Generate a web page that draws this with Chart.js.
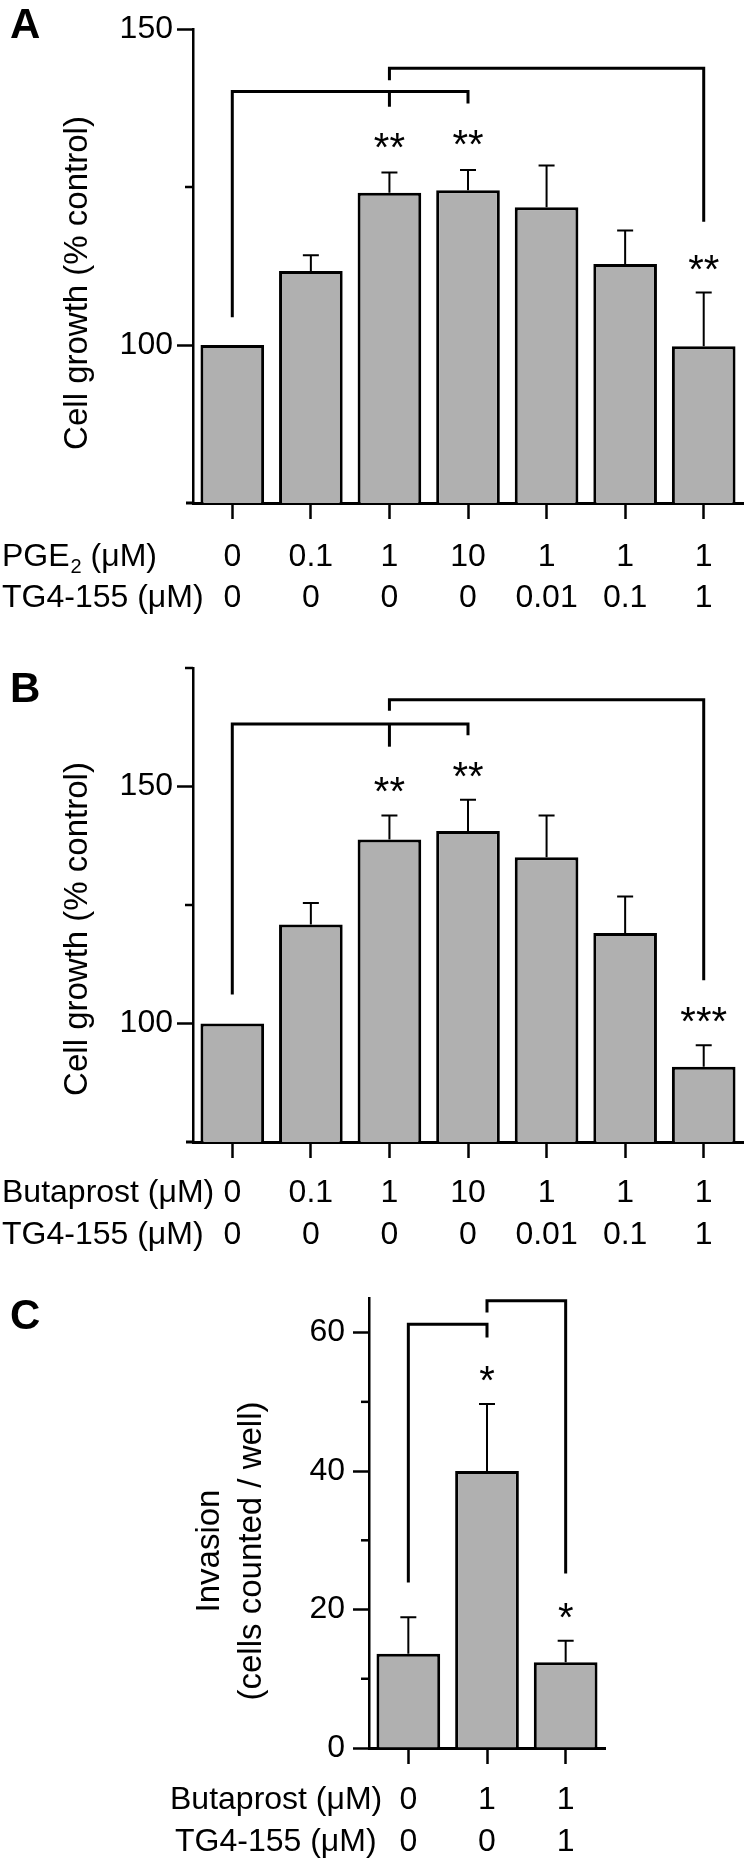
<!DOCTYPE html>
<html lang="en">
<head>
<meta charset="UTF-8">
<title>Cell growth and invasion</title>
<script src="https://cdn.jsdelivr.net/npm/chart.js"></script>
<style>
  body { margin: 0; background: #fff; }
  #wrap { position: relative; width: 746px; height: 1861px; }
  canvas { position: absolute; left: 0; }
</style>
</head>
<body>
<div id="wrap">
  <canvas id="chartA" width="746" height="640" style="top:0"></canvas>
  <canvas id="chartB" width="746" height="620" style="top:640px"></canvas>
  <canvas id="chartC" width="746" height="601" style="top:1260px"></canvas>
</div>
<script>
// Panel A: PGE2 +/- TG4-155, cell growth (% control)
const aPGE2 = ['0', '0.1', '1', '10', '1', '1', '1'];
const aTG4 = ['0', '0', '0', '0', '0.01', '0.1', '1'];
const aGrowth = [100, 111.7, 124.1, 124.5, 121.8, 112.8, 99.8];
const aGrowthSem = [0, 2.5, 3.2, 3.2, 6.6, 5.3, 8.5];
const aYTicks = [100, 125, 150];
const aYLabels = [100, 150];
const aStars = ['', '', '**', '**', '', '', '**'];
const aStarY = [null, null, 132.7, 133.2, null, null, 113.4];
// brackets as [category index, value] vertices
const aBrackets = [
  [[0, 104.4], [0, 140.1], [3, 140.1], [3, 138.2]],
  [[2, 140.1], [2, 137.7]],
  [[2, 141.9], [2, 143.8], [6, 143.8], [6, 119.5]]
];

// Panel B: butaprost +/- TG4-155, cell growth (% control)
const bButaprost = ['0', '0.1', '1', '10', '1', '1', '1'];
const bTG4 = ['0', '0', '0', '0', '0.01', '0.1', '1'];
const bGrowth = [100, 120.9, 138.8, 140.6, 135.1, 119.1, 90.9];
const bGrowthSem = [0, 4.5, 5.1, 6.6, 8.8, 7.7, 4.5];
const bYTicks = [100, 125, 150, 175];
const bYLabels = [100, 150];
const bStars = ['', '', '**', '**', '', '', '***'];
const bStarY = [null, null, 150.9, 154.2, null, null, 102.4];
const bBrackets = [
  [[0, 106.1], [0, 163.2], [3, 163.2], [3, 160.8]],
  [[2, 163.2], [2, 158.4]],
  [[2, 166.0], [2, 168.3], [6, 168.3], [6, 109.1]]
];

// Panel C: invasion (cells counted / well)
const cButaprost = ['0', '1', '1'];
const cTG4 = ['0', '0', '1'];
const cInvasion = [13.6, 40.0, 12.4];
const cInvasionSem = [5.3, 9.7, 3.1];
const cYTicks = [0, 10, 20, 30, 40, 50, 60];
const cYLabels = [0, 20, 40, 60];
const cStars = ['', '*', '*'];
const cStarY = [null, 54.4, 20.2];
const cBrackets = [
  [[0, 23.9], [0, 61.2], [1, 61.2], [1, 59.3]],
  [[1, 62.9], [1, 64.6], [2, 64.6], [2, 25.2]]
];

const FONT = '"Liberation Sans", Arial, Helvetica, sans-serif';
Chart.defaults.color = '#000';

// draws a row header, "_" marks a one-character subscript
function drawHeader(ctx, text, x, y) {
  const parts = text.split('_');
  ctx.fillText(parts[0], x, y);
  if (parts.length < 2) return;
  x += ctx.measureText(parts[0]).width;
  const font = ctx.font;
  ctx.font = '20px ' + FONT;
  ctx.fillText(parts[1][0], x + 1, y + 10);
  x += ctx.measureText(parts[1][0]).width + 1;
  ctx.font = font;
  ctx.fillText(parts[1].slice(1), x, y);
}

function decorations(p) {
  return {
    id: 'decor' + p.letter,
    afterDraw(chart) {
      const ctx = chart.ctx, xs = chart.scales.x, ys = chart.scales.y, area = chart.chartArea;
      const px = i => xs.getPixelForValue(i);
      const py = v => ys.getPixelForValue(v);
      ctx.save();
      ctx.strokeStyle = '#000';
      ctx.fillStyle = '#000';
      ctx.lineCap = 'butt';

      // x axis runs a little past the y axis
      if (p.stub) {
        ctx.lineWidth = 3;
        ctx.beginPath();
        ctx.moveTo(area.left - p.stub, area.bottom);
        ctx.lineTo(area.left, area.bottom);
        ctx.stroke();
      }

      // minor y ticks (shorter, unlabelled)
      ctx.lineWidth = 2.5;
      p.yTicks.filter(v => !p.yLabels.includes(v)).forEach(v => {
        ctx.beginPath();
        ctx.moveTo(area.left - 8, py(v));
        ctx.lineTo(area.left, py(v));
        ctx.stroke();
      });

      // upper error bars
      ctx.lineWidth = 2;
      p.values.forEach((v, i) => {
        if (!p.sem[i]) return;
        const x = px(i), top = py(v + p.sem[i]);
        ctx.beginPath();
        ctx.moveTo(x, py(v));
        ctx.lineTo(x, top);
        ctx.moveTo(x - 8, top);
        ctx.lineTo(x + 8, top);
        ctx.stroke();
      });

      // significance brackets
      ctx.lineWidth = 3;
      ctx.lineJoin = 'miter';
      p.brackets.forEach(path => {
        ctx.beginPath();
        path.forEach(([i, v], k) => k ? ctx.lineTo(px(i), py(v)) : ctx.moveTo(px(i), py(v)));
        ctx.stroke();
      });

      // stars
      ctx.font = '40px ' + FONT;
      ctx.textAlign = 'center';
      ctx.textBaseline = 'alphabetic';
      p.stars.forEach((s, i) => {
        if (s) ctx.fillText(s, px(i), py(p.starY[i]) + 23);
      });

      // two rows of concentrations under the axis
      ctx.font = '32px ' + FONT;
      ctx.textBaseline = 'middle';
      p.rows.forEach((row, r) => {
        const y = area.bottom + p.rowDy[r];
        ctx.textAlign = 'center';
        row.forEach((t, i) => ctx.fillText(t, px(i), y));
        ctx.textAlign = 'left';
        drawHeader(ctx, p.headers[r], p.headerX[r], y);
      });

      // rotated y axis title
      ctx.font = '33px ' + FONT;
      ctx.textAlign = 'center';
      ctx.textBaseline = 'alphabetic';
      p.title.forEach((t, k) => {
        ctx.save();
        ctx.translate(p.titleX[k], p.titleY);
        ctx.rotate(-Math.PI / 2);
        ctx.fillText(t, 0, 0);
        ctx.restore();
      });

      // panel letter
      ctx.font = 'bold 42px ' + FONT;
      ctx.textAlign = 'left';
      ctx.fillText(p.letter, 10, p.letterY);
      ctx.restore();
    }
  };
}

function makePanel(id, p) {
  return new Chart(document.getElementById(id), {
    type: 'bar',
    data: {
      labels: p.rows[0].map((v, i) => v + ' / ' + p.rows[1][i]),
      datasets: [{
        data: p.values,
        backgroundColor: '#b0b0b0',
        borderColor: '#000',
        borderWidth: 3,
        barPercentage: 0.81,
        categoryPercentage: 1
      }]
    },
    options: {
      responsive: false,
      animation: false,
      layout: { padding: { top: p.top, right: p.right, left: 0, bottom: 0 } },
      plugins: { legend: { display: false }, tooltip: { enabled: false } },
      scales: {
        x: {
          offset: true,
          grid: { display: true, drawOnChartArea: false, drawTicks: true, offset: false,
                  tickLength: 16, tickWidth: 2.5, tickColor: '#000' },
          border: { display: true, color: '#000', width: 3 },
          ticks: { display: false },
          afterFit: s => { s.height = p.xHeight; }
        },
        y: {
          min: p.min,
          max: p.max,
          afterBuildTicks: s => { s.ticks = p.yLabels.map(v => ({ value: v })); },
          ticks: { font: { family: FONT, size: 32 }, color: '#000', padding: p.tickPad },
          grid: { display: true, drawOnChartArea: false, drawTicks: true,
                  tickLength: 16, tickWidth: 2.5, tickColor: '#000' },
          border: { display: true, color: '#000', width: 2.5 },
          afterFit: s => { s.width = p.yWidth; }
        }
      }
    },
    plugins: [decorations(p)]
  });
}

makePanel('chartA', {
  letter: 'A', letterY: 38,
  values: aGrowth, sem: aGrowthSem,
  rows: [aPGE2, aTG4], headers: ['PGE_2 (μM)', 'TG4-155 (μM)'],
  yTicks: aYTicks, yLabels: aYLabels, min: 75, max: 150,
  stars: aStars, starY: aStarY, brackets: aBrackets,
  top: 29, right: 3, xHeight: 137, yWidth: 193, tickPad: 4, stub: 7,
  rowDy: [54, 95], headerX: [2, 2],
  title: ['Cell growth (% control)'], titleX: [87], titleY: 283
});

makePanel('chartB', {
  letter: 'B', letterY: 62,
  values: bGrowth, sem: bGrowthSem,
  rows: [bButaprost, bTG4], headers: ['Butaprost (μM)', 'TG4-155 (μM)'],
  yTicks: bYTicks, yLabels: bYLabels, min: 75, max: 175,
  stars: bStars, starY: bStarY, brackets: bBrackets,
  top: 28, right: 3, xHeight: 118, yWidth: 193, tickPad: 4, stub: 7,
  rowDy: [51, 93], headerX: [2, 2],
  title: ['Cell growth (% control)'], titleX: [87], titleY: 289
});

makePanel('chartC', {
  letter: 'C', letterY: 69,
  values: cInvasion, sem: cInvasionSem,
  rows: [cButaprost, cTG4], headers: ['Butaprost (μM)', 'TG4-155 (μM)'],
  yTicks: cYTicks, yLabels: cYLabels, min: 0, max: 65,
  stars: cStars, starY: cStarY, brackets: cBrackets,
  top: 38, right: 141, xHeight: 113, yWidth: 369, tickPad: 8, stub: 0,
  rowDy: [52, 94], headerX: [170, 175],
  title: ['Invasion', '(cells counted / well)'], titleX: [219, 261], titleY: 291
});
</script>
</body>
</html>
